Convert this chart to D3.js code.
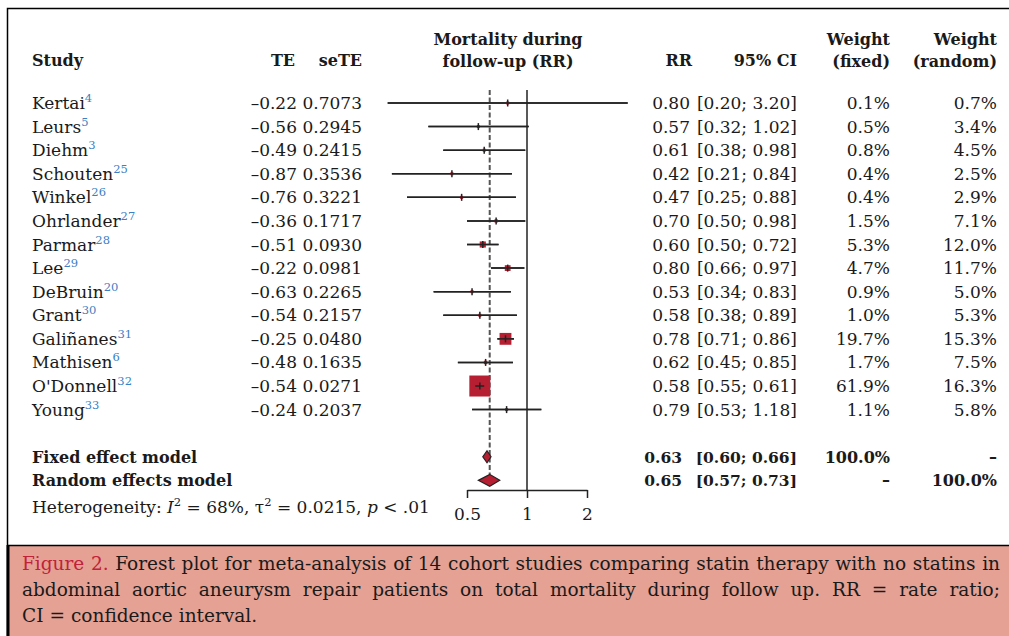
<!DOCTYPE html>
<html>
<head>
<meta charset="utf-8">
<script src="https://cdn.jsdelivr.net/npm/d3@7"></script>
<style>
  html, body { margin: 0; padding: 0; background: #fff; }
  svg { display: block; }
  text { font-family: "DejaVu Serif", serif; fill: #1a1a1a; }
  .bold { font-weight: bold; }
</style>
</head>
<body>
<div id="chart"></div>
<script>
// study level data
const studies = ["Kertai", "Leurs", "Diehm", "Schouten", "Winkel", "Ohrlander", "Parmar",
                 "Lee", "DeBruin", "Grant", "Galiñanes", "Mathisen", "O'Donnell", "Young"];
const refs = ["4", "5", "3", "25", "26", "27", "28", "29", "20", "30", "31", "6", "32", "33"];
const te = ["–0.22", "–0.56", "–0.49", "–0.87", "–0.76", "–0.36", "–0.51",
            "–0.22", "–0.63", "–0.54", "–0.25", "–0.48", "–0.54", "–0.24"];
const seTE = ["0.7073", "0.2945", "0.2415", "0.3536", "0.3221", "0.1717", "0.0930",
              "0.0981", "0.2265", "0.2157", "0.0480", "0.1635", "0.0271", "0.2037"];
const rr = [0.80, 0.57, 0.61, 0.42, 0.47, 0.70, 0.60, 0.80, 0.53, 0.58, 0.78, 0.62, 0.58, 0.79];
const lower = [0.20, 0.32, 0.38, 0.21, 0.25, 0.50, 0.50, 0.66, 0.34, 0.38, 0.71, 0.45, 0.55, 0.53];
const upper = [3.20, 1.02, 0.98, 0.84, 0.88, 0.98, 0.72, 0.97, 0.83, 0.89, 0.86, 0.85, 0.61, 1.18];
const wFixed = [0.1, 0.5, 0.8, 0.4, 0.4, 1.5, 5.3, 4.7, 0.9, 1.0, 19.7, 1.7, 61.9, 1.1];
const wRandom = [0.7, 3.4, 4.5, 2.5, 2.9, 7.1, 12.0, 11.7, 5.0, 5.3, 15.3, 7.5, 16.3, 5.8];

// pooled estimates
const models = ["Fixed effect model", "Random effects model"];
const modelRR = [0.63, 0.65];
const modelLower = [0.60, 0.57];
const modelUpper = [0.66, 0.73];
const modelWFixed = ["100.0%", "–"];
const modelWRandom = ["–", "100.0%"];

const axisTicks = [0.5, 1, 2];

const captionLines = [
  "Figure 2. Forest plot for meta-analysis of 14 cohort studies comparing statin therapy with no statins in",
  "abdominal aortic aneurysm repair patients on total mortality during follow up. RR = rate ratio;",
  "CI = confidence interval."
];

const width = 1009, height = 636;
const red = "#b51f31";

const svg = d3.select("#chart").append("svg")
  .attr("width", width)
  .attr("height", height);

// outer frame
svg.append("path")
  .attr("d", `M7.5,${height} L7.5,8.5 L${width},8.5`)
  .attr("fill", "none")
  .attr("stroke", "#000")
  .attr("stroke-width", 1.5);

// scales
const x = d3.scaleLog().base(2).domain([0.5, 2]).range([467, 587]);
const y = d3.scaleLinear().domain([0, 13]).range([103, 409.6]);
const size = d3.scaleSqrt().domain([0, 61.9]).range([0, 21]);

const fmt2 = d3.format(".2f");
const pct = d3.format(".1f");
const baseOff = 6;

// header
const head = svg.append("g").attr("class", "bold").style("font-size", "16px");
head.append("text").attr("x", 32).attr("y", 66).text("Study");
head.append("text").attr("x", 295).attr("y", 66).attr("text-anchor", "end").text("TE");
head.append("text").attr("x", 362).attr("y", 66).attr("text-anchor", "end").text("seTE");
head.append("text").attr("x", 508).attr("y", 45).attr("text-anchor", "middle").text("Mortality during");
head.append("text").attr("x", 508).attr("y", 67).attr("text-anchor", "middle").text("follow-up (RR)");
head.append("text").attr("x", 692).attr("y", 66).attr("text-anchor", "end").text("RR");
head.append("text").attr("x", 797).attr("y", 66).attr("text-anchor", "end").text("95% CI");
head.append("text").attr("x", 890).attr("y", 45).attr("text-anchor", "end").text("Weight");
head.append("text").attr("x", 890).attr("y", 67).attr("text-anchor", "end").text("(fixed)");
head.append("text").attr("x", 997).attr("y", 45).attr("text-anchor", "end").text("Weight");
head.append("text").attr("x", 997).attr("y", 67).attr("text-anchor", "end").text("(random)");

// study rows text
const rows = svg.append("g").style("font-size", "17px");
const idx = d3.range(studies.length);

const names = rows.selectAll(".name").data(idx).join("text")
  .attr("class", "name")
  .attr("x", 32)
  .attr("y", i => y(i) + baseOff);
names.append("tspan").text(i => studies[i]);
names.append("tspan")
  .attr("dy", -7)
  .style("font-size", "11.5px")
  .style("fill", "#3b7fc4")
  .text(i => refs[i]);

rows.selectAll(".te").data(idx).join("text")
  .attr("x", 297).attr("y", i => y(i) + baseOff)
  .attr("text-anchor", "end").text(i => te[i]);
rows.selectAll(".se").data(idx).join("text")
  .attr("x", 362).attr("y", i => y(i) + baseOff)
  .attr("text-anchor", "end").text(i => seTE[i]);
rows.selectAll(".rr").data(idx).join("text")
  .attr("x", 690).attr("y", i => y(i) + baseOff)
  .attr("text-anchor", "end").text(i => fmt2(rr[i]));
rows.selectAll(".ci").data(idx).join("text")
  .attr("x", 797).attr("y", i => y(i) + baseOff)
  .attr("text-anchor", "end").text(i => `[${fmt2(lower[i])}; ${fmt2(upper[i])}]`);
rows.selectAll(".wf").data(idx).join("text")
  .attr("x", 890).attr("y", i => y(i) + baseOff)
  .attr("text-anchor", "end").text(i => pct(wFixed[i]) + "%");
rows.selectAll(".wr").data(idx).join("text")
  .attr("x", 997).attr("y", i => y(i) + baseOff)
  .attr("text-anchor", "end").text(i => pct(wRandom[i]) + "%");

// pooled rows text
const fixedRow = 15, randomRow = 16;
const pooled = svg.append("g").attr("class", "bold").style("font-size", "16px");
[0, 1].forEach(m => {
  const yy = y(fixedRow + m) + baseOff;
  pooled.append("text").attr("x", 32).attr("y", yy).text(models[m]);
  pooled.append("text").attr("x", 682).attr("y", yy).attr("text-anchor", "end")
    .style("font-size", "15.5px").text(fmt2(modelRR[m]));
  pooled.append("text").attr("x", 797).attr("y", yy).attr("text-anchor", "end")
    .style("font-size", "15.5px")
    .text(`[${fmt2(modelLower[m])}; ${fmt2(modelUpper[m])}]`);
  pooled.append("text").attr("x", 890).attr("y", yy).attr("text-anchor", "end").text(modelWFixed[m]);
  pooled.append("text").attr("x", 997).attr("y", yy).attr("text-anchor", "end").text(modelWRandom[m]);
});

// heterogeneity
const het = svg.append("text").attr("x", 32).attr("y", y(17) + baseOff + 3).style("font-size", "17px");
het.append("tspan").text("Heterogeneity: ");
het.append("tspan").style("font-style", "italic").text("I");
het.append("tspan").attr("dy", -7).style("font-size", "11.5px").text("2");
het.append("tspan").attr("dy", 7).text(" = 68%, τ");
het.append("tspan").attr("dy", -7).style("font-size", "11.5px").text("2");
het.append("tspan").attr("dy", 7).text(" = 0.0215, ");
het.append("tspan").style("font-style", "italic").text("p");
het.append("tspan").text(" < .01");

// plot region
const plot = svg.append("g");
const plotTop = y(0) - 13;
const axisY = 490;

// line of no effect
plot.append("line")
  .attr("x1", x(1)).attr("x2", x(1))
  .attr("y1", plotTop).attr("y2", axisY)
  .attr("stroke", "#222").attr("stroke-width", 1.5);

// pooled (random effects) estimate reference line
plot.append("line")
  .attr("x1", x(modelRR[1])).attr("x2", x(modelRR[1]))
  .attr("y1", plotTop).attr("y2", y(randomRow) - 6)
  .attr("stroke", "#555").attr("stroke-width", 2)
  .attr("stroke-dasharray", "5,2.5");

// CI lines
plot.selectAll(".ci-line").data(idx).join("line")
  .attr("x1", i => x(lower[i])).attr("x2", i => x(upper[i]))
  .attr("y1", i => y(i)).attr("y2", i => y(i))
  .attr("stroke", "#222").attr("stroke-width", 1.5);

// squares
plot.selectAll(".sq").data(idx).join("rect")
  .attr("x", i => x(rr[i]) - Math.max(3, size(wFixed[i])) / 2)
  .attr("y", i => y(i) - Math.max(3, size(wFixed[i])) / 2)
  .attr("width", i => Math.max(3, size(wFixed[i])))
  .attr("height", i => Math.max(3, size(wFixed[i])))
  .attr("fill", red);

// CI line drawn again over the square, plus estimate tick
plot.selectAll(".ci-in").data(idx).join("line")
  .attr("x1", i => x(lower[i])).attr("x2", i => x(upper[i]))
  .attr("y1", i => y(i)).attr("y2", i => y(i))
  .attr("stroke", "#222").attr("stroke-width", 1.5);
plot.selectAll(".est").data(idx).join("line")
  .attr("x1", i => x(rr[i])).attr("x2", i => x(rr[i]))
  .attr("y1", i => y(i) - 3.5).attr("y2", i => y(i) + 3.5)
  .attr("stroke", "#222").attr("stroke-width", 1.5);

// diamonds
plot.selectAll(".diamond").data([0, 1]).join("path")
  .attr("d", m => {
    const yy = y(fixedRow + m), h = 6;
    return `M${x(modelLower[m])},${yy} L${x(modelRR[m])},${yy - h} L${x(modelUpper[m])},${yy} L${x(modelRR[m])},${yy + h} Z`;
  })
  .attr("fill", red)
  .attr("stroke", "#222")
  .attr("stroke-width", 1.2);

// axis
const axis = d3.axisBottom(x)
  .tickValues(axisTicks)
  .tickFormat(d3.format(""))
  .tickSize(8)
  .tickSizeOuter(0)
  .tickPadding(10);
const ax = plot.append("g")
  .attr("transform", `translate(0,${axisY})`)
  .call(axis);
ax.select(".domain").attr("stroke", "#222").attr("stroke-width", 1.5);
ax.selectAll(".tick line").attr("stroke", "#222").attr("stroke-width", 1.5);
ax.selectAll(".tick text")
  .style("font-family", "'DejaVu Serif', serif")
  .style("font-size", "17px")
  .attr("fill", "#1a1a1a");

// caption box
const cap = svg.append("g").attr("class", "caption");
cap.append("rect")
  .attr("x", 7).attr("y", 545)
  .attr("width", width - 7).attr("height", height - 545)
  .attr("fill", "#e4a194");
cap.append("line")
  .attr("x1", 7).attr("x2", width).attr("y1", 545.5).attr("y2", 545.5)
  .attr("stroke", "#000").attr("stroke-width", 1.5);
cap.append("line")
  .attr("x1", 8).attr("x2", 8).attr("y1", 545).attr("y2", height)
  .attr("stroke", "#000").attr("stroke-width", 3);

// justify caption lines by placing words
const capX0 = 22, capX1 = 1000;
const capY = [570, 596, 622];
captionLines.forEach((line, li) => {
  const words = line.split(" ");
  const els = words.map((w, wi) => cap.append("text")
    .style("font-size", "18.5px")
    .attr("y", capY[li])
    .style("fill", li === 0 && wi < 2 ? "#c0223a" : "#1a1a1a")
    .text(w));
  const lens = els.map(e => e.node().getComputedTextLength());
  const total = d3.sum(lens);
  const justify = li < captionLines.length - 1;
  const gap = justify ? Math.max(3, (capX1 - capX0 - total) / (words.length - 1)) : 6;
  let cx = capX0;
  els.forEach((e, k) => { e.attr("x", cx); cx += lens[k] + gap; });
});
</script>
</body>
</html>
